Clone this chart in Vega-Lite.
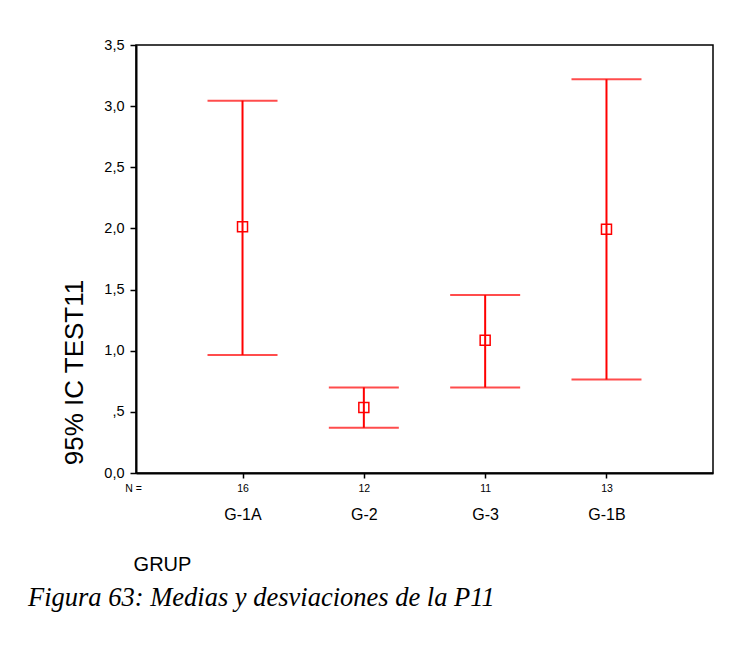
{
  "$schema": "https://vega.github.io/schema/vega-lite/v6.json",
  "width": 577,
  "height": 428,
  "autosize": "none",
  "padding": {"left": 136, "top": 45, "right": 40, "bottom": 184},
  "background": "white",
  "config": {
    "font": "Liberation Sans",
    "view": {"stroke": "black", "strokeWidth": 1.5}
  },
  "title": {
    "text": "Figura 63: Medias y desviaciones de la P11",
    "orient": "bottom",
    "anchor": "start",
    "frame": "group",
    "dx": -108,
    "offset": 11,
    "font": "Liberation Serif",
    "fontStyle": "italic",
    "fontWeight": "normal",
    "fontSize": 26.5,
    "color": "black"
  },
  "data": {
    "values": [
      {"group": "G-1A", "n": "16", "mean": 2.013, "lower": 0.965, "upper": 3.045},
      {"group": "G-2", "n": "12", "mean": 0.535, "lower": 0.37, "upper": 0.70},
      {"group": "G-3", "n": "11", "mean": 1.085, "lower": 0.70, "upper": 1.455},
      {"group": "G-1B", "n": "13", "mean": 1.994, "lower": 0.765, "upper": 3.22}
    ]
  },
  "layer": [
    {
      "encoding": {
        "x": {
          "field": "n",
          "type": "nominal",
          "sort": null,
          "scale": {"type": "point", "padding": 0.878},
          "axis": {
            "orient": "bottom",
            "labelAngle": 0,
            "labelFontSize": 10.5,
            "labelColor": "black",
            "tickColor": "black",
            "tickSize": 5,
            "tickWidth": 1.5,
            "labelPadding": 5.5,
            "domainColor": "black",
            "domainWidth": 2,
            "title": "N =",
            "titleFontSize": 10.5,
            "titleFontWeight": "normal",
            "titleColor": "black",
            "titleX": -3,
            "titleY": 15,
            "titleAlign": "center",
            "titleBaseline": "middle",
            "titleAnchor": null
          }
        }
      },
      "layer": [
        {
          "mark": {"type": "rule", "color": "#ff0000", "strokeWidth": 2},
          "encoding": {
            "y": {
              "field": "lower",
              "type": "quantitative",
              "scale": {"domain": [0, 3.5], "nice": false, "zero": false},
              "axis": {
                "values": [0, 0.5, 1, 1.5, 2, 2.5, 3, 3.5],
                "labelExpr": "datum.value == 0 ? '0,0' : (datum.value < 1 ? replace(format(datum.value, '.1f'), '0.', ',') : replace(format(datum.value, '.1f'), '.', ','))",
                "grid": false,
                "labelFontSize": 14.5,
                "labelColor": "black",
                "labelPadding": 6,
                "tickSize": 6,
                "tickColor": "black",
                "tickWidth": 1.5,
                "domainColor": "black",
                "domainWidth": 2,
                "title": "95% IC TEST11",
                "titleFontSize": 26,
                "titleFontWeight": "normal",
                "titleColor": "black",
                "titleAngle": -90,
                "titleX": -54,
                "titleY": 327,
                "titleAlign": "center",
                "titleBaseline": "alphabetic",
                "titleAnchor": null
              }
            },
            "y2": {"field": "upper"}
          }
        },
        {
          "mark": {"type": "tick", "color": "#ff0000", "size": 70, "thickness": 2},
          "encoding": {"y": {"field": "lower", "type": "quantitative"}}
        },
        {
          "mark": {"type": "tick", "color": "#ff0000", "size": 70, "thickness": 2},
          "encoding": {"y": {"field": "upper", "type": "quantitative"}}
        }
      ]
    },
    {
      "mark": {"type": "point", "shape": "square", "filled": false, "size": 100, "stroke": "#ff0000", "strokeWidth": 1.5, "opacity": 1},
      "encoding": {
        "x": {
          "field": "group",
          "type": "nominal",
          "sort": null,
          "scale": {"type": "point", "padding": 0.878},
          "axis": {
            "orient": "bottom",
            "labelAngle": 0,
            "labelFontSize": 16,
            "labelColor": "black",
            "ticks": false,
            "domain": false,
            "labelPadding": 33,
            "title": "GRUP",
            "titleFontSize": 20,
            "titleFontWeight": "normal",
            "titleColor": "black",
            "titleX": 26,
            "titleY": 97,
            "titleAlign": "center",
            "titleBaseline": "alphabetic",
            "titleAnchor": null
          }
        },
        "y": {"field": "mean", "type": "quantitative"}
      }
    }
  ],
  "resolve": {"scale": {"x": "independent"}, "axis": {"x": "independent"}}
}
